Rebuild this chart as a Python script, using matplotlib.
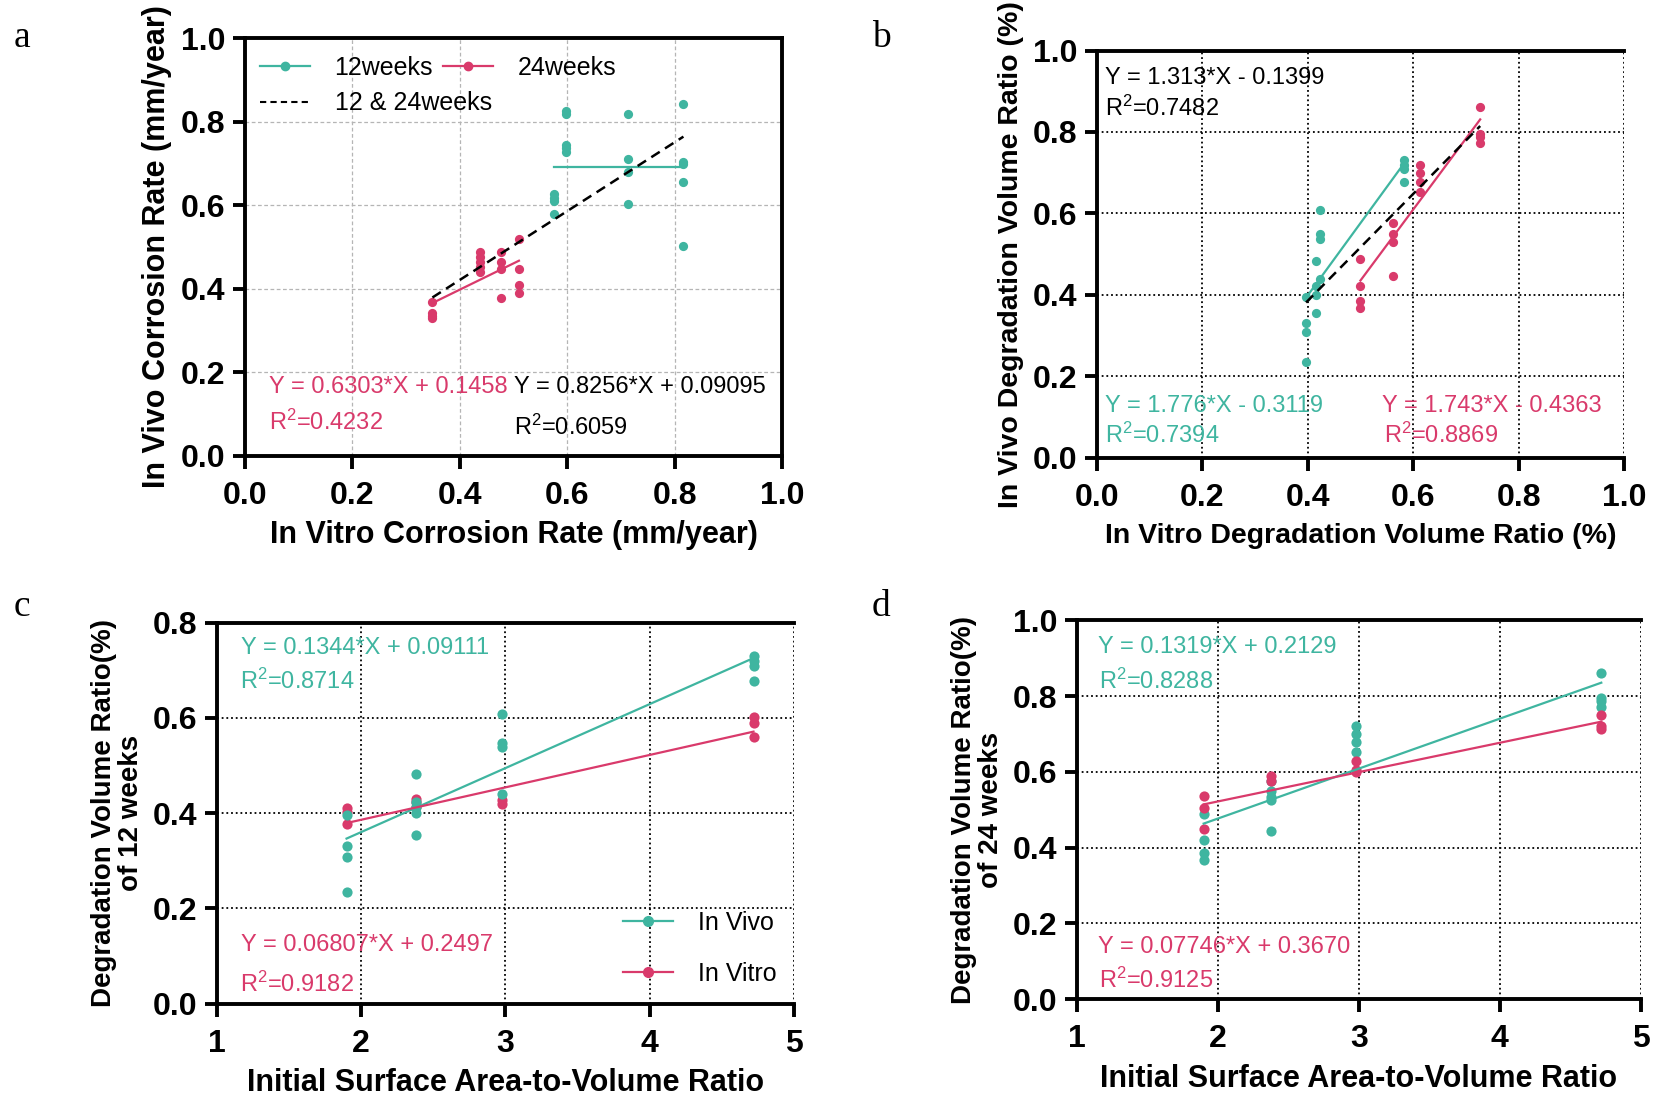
import numpy as np
import matplotlib
matplotlib.use("Agg")
import matplotlib.pyplot as plt
from matplotlib.lines import Line2D

plt.rcParams['font.family'] = ['Liberation Sans', 'DejaVu Sans']
plt.rcParams['mathtext.fontset'] = 'custom'
plt.rcParams['mathtext.rm'] = 'Liberation Sans'
plt.rcParams['mathtext.it'] = 'Liberation Sans:italic'
plt.rcParams['mathtext.bf'] = 'Liberation Sans:bold'

TEAL = '#3FB5A0'
PINK = '#D93A6B'

# ---------------- data ----------------
# panel a: corrosion rate, x = in vitro, y = in vivo
a_x12 = [0.575, 0.597, 0.712, 0.816]
a_y12 = [[0.627, 0.618, 0.610, 0.580],
         [0.826, 0.818, 0.744, 0.737, 0.729],
         [0.818, 0.712, 0.680, 0.604],
         [0.842, 0.704, 0.699, 0.656, 0.502]]
a_x24 = [0.349, 0.438, 0.477, 0.510]
a_y24 = [[0.369, 0.341, 0.335, 0.330],
         [0.489, 0.477, 0.465, 0.452, 0.441],
         [0.489, 0.465, 0.447, 0.377],
         [0.520, 0.447, 0.408, 0.389]]
a_fit12 = (0.0, 0.693)
a_fit24 = (0.6303, 0.1458)
a_fitall = (0.8256, 0.09095)

# panel b: degradation volume ratio, x = in vitro, y = in vivo
b_x12 = [0.397, 0.416, 0.424, 0.583]
b_y12 = [[0.396, 0.330, 0.308, 0.235],
         [0.483, 0.421, 0.400, 0.355],
         [0.608, 0.549, 0.538, 0.440],
         [0.730, 0.720, 0.710, 0.678]]
b_x24 = [0.500, 0.561, 0.613, 0.727]
b_y24 = [[0.489, 0.421, 0.386, 0.367],
         [0.576, 0.550, 0.530, 0.446],
         [0.720, 0.700, 0.678, 0.652],
         [0.861, 0.796, 0.788, 0.772]]
b_fit12 = (1.776, -0.3119)
b_fit24 = (1.743, -0.4363)
b_fitall = (1.313, -0.1399)

# panels c, d: vs initial surface area-to-volume ratio
sv_ratio = [1.9, 2.38, 2.98, 4.72]
c_vivo = [[0.396, 0.330, 0.308, 0.235],
          [0.482, 0.423, 0.413, 0.401, 0.355],
          [0.608, 0.547, 0.538, 0.441],
          [0.730, 0.720, 0.709, 0.678]]
c_vitro = [[0.411, 0.402, 0.378],
           [0.430, 0.423, 0.413],
           [0.427, 0.418],
           [0.601, 0.589, 0.559]]
c_fit_vivo = (0.1344, 0.09111)
c_fit_vitro = (0.06807, 0.2497)

d_vivo = [[0.489, 0.420, 0.385, 0.367],
          [0.577, 0.549, 0.535, 0.527, 0.445],
          [0.721, 0.701, 0.679, 0.652],
          [0.861, 0.796, 0.788, 0.772]]
d_vitro = [[0.537, 0.506, 0.449],
           [0.588, 0.575],
           [0.628, 0.604, 0.600],
           [0.750, 0.722, 0.712]]
d_fit_vivo = (0.1319, 0.2129)
d_fit_vitro = (0.07746, 0.3670)


def flat(xs, groups):
    px, py = [], []
    for x, g in zip(xs, groups):
        px += [x] * len(g)
        py += g
    return px, py


def fit_line(ax, xs, fit, **kw):
    x = np.array([min(xs), max(xs)])
    ax.plot(x, fit[0] * x + fit[1], **kw)


def style(ax, xlim, ylim, xticks, yticks, xfmt, grid, right=False):
    ax.set_xlim(*xlim)
    ax.set_ylim(*ylim)
    ax.set_xticks(xticks)
    ax.set_yticks(yticks)
    ax.set_xticklabels([xfmt.format(v) for v in xticks])
    ax.set_yticklabels(['{:.1f}'.format(v) for v in yticks])
    for s in ['left', 'bottom', 'top', 'right']:
        ax.spines[s].set_linewidth(2.8)
    ax.spines['right'].set_visible(right)
    ax.tick_params(direction='out', length=9, width=2.8, labelsize=23)
    ax.tick_params(axis='x', pad=9)
    ax.tick_params(axis='y', pad=5)
    for lab in ax.get_xticklabels() + ax.get_yticklabels():
        lab.set_fontweight('bold')
    if grid == 'dash':
        ax.grid(True, color='#b5b5b5', linestyle=(0, (3, 2)), linewidth=0.9)
    else:
        ax.grid(True, color='black', linestyle=(0, (1, 1.6)), linewidth=1.3)
    ax.set_axisbelow(True)


def label(ax, xl, yl, size=22):
    ax.set_xlabel(xl, fontsize=size, fontweight='bold', labelpad=7)
    ax.set_ylabel(yl, fontsize=size, fontweight='bold', labelpad=6, linespacing=1.05)


fig = plt.figure(figsize=(16.54, 10.98), dpi=100)
ax_a = fig.add_axes([0.148, 0.585, 0.325, 0.380])
ax_b = fig.add_axes([0.663, 0.583, 0.319, 0.371])
ax_c = fig.add_axes([0.131, 0.086, 0.349, 0.347])
ax_d = fig.add_axes([0.651, 0.090, 0.341, 0.345])

ms = 44
lw = 1.6
eq = 17

# ---- a ----
ax = ax_a
style(ax, (0, 1), (0, 1), np.arange(0, 1.01, 0.2), np.arange(0, 1.01, 0.2), '{:.1f}', 'dash', right=True)
x, y = flat(a_x12, a_y12)
ax.scatter(x, y, s=ms, color=TEAL, zorder=3, linewidths=0)
x, y = flat(a_x24, a_y24)
ax.scatter(x, y, s=ms, color=PINK, zorder=3, linewidths=0)
fit_line(ax, a_x12, a_fit12, color=TEAL, lw=lw, zorder=4)
fit_line(ax, a_x24, a_fit24, color=PINK, lw=lw, zorder=4)
fit_line(ax, a_x24 + a_x12, a_fitall, color='black', lw=1.8, ls=(0, (4, 2.5)), zorder=5)
h12 = Line2D([], [], color=TEAL, lw=lw, marker='o', ms=6)
h24 = Line2D([], [], color=PINK, lw=lw, marker='o', ms=6)
hall = Line2D([], [], color='black', lw=1.5, ls=(0, (3, 2)))
leg1 = ax.legend([h12, h24], ['12weeks', '24weeks'], ncol=2, loc='upper left',
                 bbox_to_anchor=(-0.005, 1.0), frameon=False, fontsize=18, handlelength=2.0,
                 handletextpad=1.0, columnspacing=0.4, borderaxespad=0.2, borderpad=0.5)
ax.add_artist(leg1)
ax.legend([hall], ['12 & 24weeks'], loc='upper left', bbox_to_anchor=(-0.005, 0.915),
          frameon=False, fontsize=18, handlelength=2.0, handletextpad=1.0,
          borderaxespad=0.2, borderpad=0.5)
ax.text(0.045, 0.164, 'Y = 0.6303*X + 0.1458', color=PINK, fontsize=eq, va='center')
ax.text(0.045, 0.080, 'R$^2$=0.4232', color=PINK, fontsize=eq, va='center')
ax.text(0.50, 0.164, 'Y = 0.8256*X + 0.09095', color='black', fontsize=eq, va='center')
ax.text(0.50, 0.068, 'R$^2$=0.6059', color='black', fontsize=eq, va='center')
label(ax, 'In Vitro Corrosion Rate (mm/year)', 'In Vivo Corrosion Rate (mm/year)')

# ---- b ----
ax = ax_b
style(ax, (0, 1), (0, 1), np.arange(0, 1.01, 0.2), np.arange(0, 1.01, 0.2), '{:.1f}', 'dot')
x, y = flat(b_x12, b_y12)
ax.scatter(x, y, s=ms, color=TEAL, zorder=3, linewidths=0)
x, y = flat(b_x24, b_y24)
ax.scatter(x, y, s=ms, color=PINK, zorder=3, linewidths=0)
fit_line(ax, b_x12, b_fit12, color=TEAL, lw=lw, zorder=4)
fit_line(ax, b_x24, b_fit24, color=PINK, lw=lw, zorder=4)
fit_line(ax, b_x12 + b_x24, b_fitall, color='black', lw=1.8, ls=(0, (4, 2.5)), zorder=5)
ax.text(0.016, 0.933, 'Y = 1.313*X - 0.1399', color='black', fontsize=eq, va='center')
ax.text(0.016, 0.857, 'R$^2$=0.7482', color='black', fontsize=eq, va='center')
ax.text(0.016, 0.127, 'Y = 1.776*X - 0.3119', color=TEAL, fontsize=eq, va='center')
ax.text(0.016, 0.055, 'R$^2$=0.7394', color=TEAL, fontsize=eq, va='center')
ax.text(0.54, 0.127, 'Y = 1.743*X - 0.4363', color=PINK, fontsize=eq, va='center')
ax.text(0.544, 0.055, 'R$^2$=0.8869', color=PINK, fontsize=eq, va='center')
label(ax, 'In Vitro Degradation Volume Ratio (%)', 'In Vivo Degradation Volume Ratio (%)', size=20.5)

# ---- c ----
ax = ax_c
style(ax, (1, 5), (0, 0.8), [1, 2, 3, 4, 5], np.arange(0, 0.81, 0.2), '{:d}', 'dot')
x, y = flat(sv_ratio, c_vitro)
ax.scatter(x, y, s=ms + 10, color=PINK, zorder=3, linewidths=0)
x, y = flat(sv_ratio, c_vivo)
ax.scatter(x, y, s=ms + 10, color=TEAL, zorder=3, linewidths=0)
fit_line(ax, sv_ratio, c_fit_vivo, color=TEAL, lw=lw, zorder=4)
fit_line(ax, sv_ratio, c_fit_vitro, color=PINK, lw=lw, zorder=4)
hv = Line2D([], [], color=TEAL, lw=lw, marker='o', ms=7)
ht = Line2D([], [], color=PINK, lw=lw, marker='o', ms=7)
ax.legend([hv, ht], ['In Vivo', 'In Vitro'], loc='lower right', frameon=False, fontsize=18,
          handlelength=2.0, handletextpad=1.0, labelspacing=1.1, borderaxespad=0.3)
ax.text(1.17, 0.747, 'Y = 0.1344*X + 0.09111', color=TEAL, fontsize=eq, va='center')
ax.text(1.16, 0.676, 'R$^2$=0.8714', color=TEAL, fontsize=eq, va='center')
ax.text(1.17, 0.122, 'Y = 0.06807*X + 0.2497', color=PINK, fontsize=eq, va='center')
ax.text(1.16, 0.040, 'R$^2$=0.9182', color=PINK, fontsize=eq, va='center')
ax.set_xlabel('Initial Surface Area-to-Volume Ratio', fontsize=22, fontweight='bold', labelpad=7)
ax.set_ylabel('Degradation Volume Ratio(%)\nof 12 weeks', fontsize=20, fontweight='bold',
              labelpad=6, linespacing=1.05)

# ---- d ----
ax = ax_d
style(ax, (1, 5), (0, 1), [1, 2, 3, 4, 5], np.arange(0, 1.01, 0.2), '{:d}', 'dot')
x, y = flat(sv_ratio, d_vivo)
ax.scatter(x, y, s=ms + 10, color=TEAL, zorder=3, linewidths=0)
x, y = flat(sv_ratio, d_vitro)
ax.scatter(x, y, s=ms + 10, color=PINK, zorder=3, linewidths=0)
fit_line(ax, sv_ratio, d_fit_vivo, color=TEAL, lw=lw, zorder=4)
fit_line(ax, sv_ratio, d_fit_vitro, color=PINK, lw=lw, zorder=4)
ax.text(1.15, 0.930, 'Y = 0.1319*X + 0.2129', color=TEAL, fontsize=eq, va='center')
ax.text(1.16, 0.838, 'R$^2$=0.8288', color=TEAL, fontsize=eq, va='center')
ax.text(1.15, 0.139, 'Y = 0.07746*X + 0.3670', color=PINK, fontsize=eq, va='center')
ax.text(1.16, 0.049, 'R$^2$=0.9125', color=PINK, fontsize=eq, va='center')
ax.set_xlabel('Initial Surface Area-to-Volume Ratio', fontsize=22, fontweight='bold', labelpad=7)
ax.set_ylabel('Degradation Volume Ratio(%)\nof 24 weeks', fontsize=20, fontweight='bold',
              labelpad=6, linespacing=1.05)

# panel letters
for lab, (px, py) in zip('abcd', [(0.008, 0.966), (0.527, 0.966), (0.008, 0.447), (0.527, 0.447)]):
    fig.text(px, py, lab, fontsize=27, family='Liberation Serif', va='center')

fig.savefig('out.png', dpi=100)
